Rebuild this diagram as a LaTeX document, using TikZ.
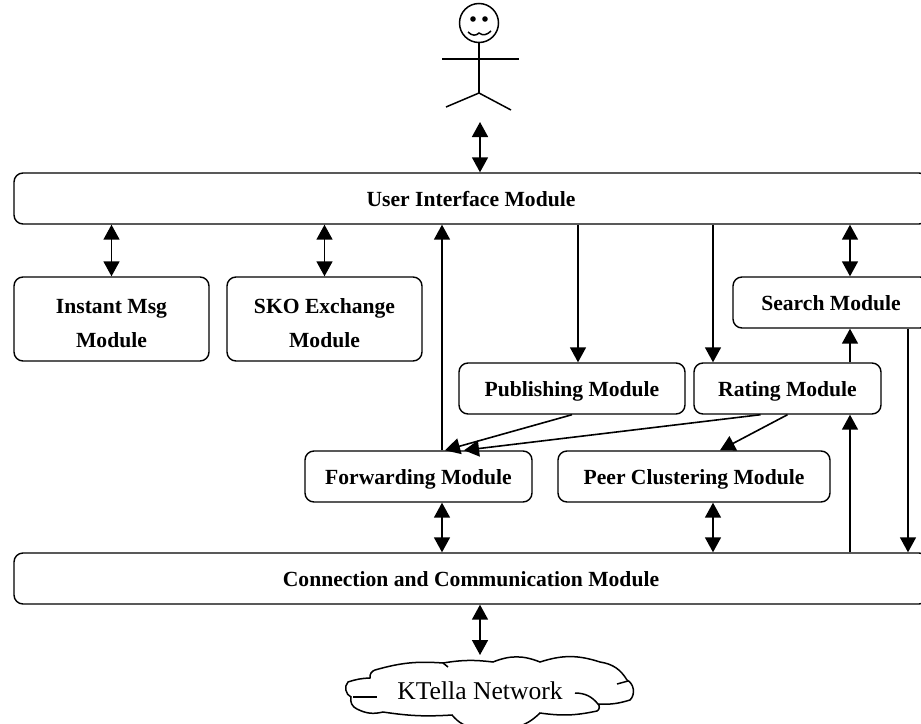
\documentclass[tikz,border=0pt]{standalone}
\usepackage{fontspec}
\setmainfont{Liberation Serif}
\usetikzlibrary{arrows.meta}
\tikzset{
	modbox/.style={draw, line width=1.4pt, rounded corners=9pt, inner sep=0pt, align=center, text height=16pt, text depth=0pt,
		font=\fontsize{21.6}{34}\selectfont\bfseries},
	onearrow/.style={line width=1.6pt, -{Triangle[length=15pt,width=16pt]}},
	bothways/.style={line width=1.6pt, {Triangle[length=15pt,width=16pt]}-{Triangle[length=15pt,width=16pt]}},
	figure/.style={line width=1.5pt},
}

\begin{document}
\begin{tikzpicture}[x=1pt,y=-1pt]
			%%%%% START %%%%%
			\useasboundingbox (0, 0) rectangle (921, 723);

			\node[modbox, minimum width=914pt, minimum height=51pt] (user) at (471, 198.5) {User Interface Module};
			\node[modbox, minimum width=914pt, minimum height=51pt] (conn) at (471, 578.5) {Connection and Communication Module};

			\node[modbox, minimum width=195pt, minimum height=84pt, text height=56pt] (instant) at (111.5, 319) {Instant Msg\\Module};
			\node[modbox, minimum width=195pt, minimum height=84pt, text height=56pt] (sko) at (324.5, 319) {SKO Exchange\\Module};
			\node[modbox, minimum width=196pt, minimum height=51pt] (search) at (831, 302.5) {Search Module};

			\node[modbox, minimum width=226pt, minimum height=51pt] (pub) at (572, 388.5) {Publishing Module};
			\node[modbox, minimum width=187pt, minimum height=51pt] (rate) at (787.5, 388.5) {Rating Module};
			\node[modbox, minimum width=227pt, minimum height=51pt] (fwd) at (418.5, 476.5) {Forwarding Module};
			\node[modbox, minimum width=272pt, minimum height=51pt] (peer) at (694, 476.5) {Peer Clustering Module};

			\coordinate (colnet) at (480, 0);
			\coordinate (colfwd) at (442, 0);
			\coordinate (colpub) at (578, 0);
			\coordinate (colrate) at (713, 0);
			\coordinate (colsearch) at (850, 0);
			\coordinate (coldown) at (908, 0);

			% person
			\coordinate (feet) at (480, 122);
			\draw[figure] (479, 23) circle (19.5);
			\fill (473, 19) circle (2.8);
			\fill (485, 19) circle (2.8);
			\draw[figure] (468, 32) .. controls (472, 36) and (476, 36) .. (479, 33) .. controls (483, 36) and (487, 35) .. (491, 31);
			\draw[figure] (479, 42) -- (479, 93);
			\draw[figure] (442, 59) -- (519, 59);
			\draw[figure] (446, 107) -- (479, 93) -- (511, 110);

			\draw[bothways] (feet) -- (user.north -| feet);
			\draw[bothways] (user.south -| instant.north) -- (instant.north);
			\draw[bothways] (user.south -| sko.north) -- (sko.north);
			\draw[onearrow] (fwd.north -| colfwd) -- (user.south -| colfwd);
			\draw[onearrow] (user.south -| colpub) -- (pub.north -| colpub);
			\draw[onearrow] (user.south -| colrate) -- (rate.north -| colrate);
			\draw[bothways] (user.south -| colsearch) -- (search.north -| colsearch);
			\draw[onearrow] (rate.north -| colsearch) -- (search.south -| colsearch);
			\draw[onearrow] (conn.north -| colsearch) -- (rate.south -| colsearch);
			\draw[onearrow] (search.south -| coldown) -- (conn.north -| coldown);

			\draw[onearrow] (pub.south) -- ([xshift=26.5pt]fwd.north);
			\draw[onearrow] ([xshift=-27pt]rate.south) -- ([xshift=45.5pt]fwd.north);
			\draw[onearrow] (rate.south) -- ([xshift=26pt]peer.north);

			\draw[bothways] (fwd.south -| colfwd) -- (conn.north -| colfwd);
			\draw[bothways] (peer.south -| colrate) -- (conn.north -| colrate);

			% cloud
			\coordinate (cloudtop) at (480, 655);
			\draw[figure] (443, 663) to[bend left=8] (493, 662) to[bend left=22] (540, 662) to[bend left=18] (600, 662)
				to[bend left=25] (627, 680) to[bend left=55] (630, 700) to[bend left=10] (598, 704)
				to[bend left=60] (597, 711) to[bend left=10] (540, 713) to[bend left=15] (513, 728)
				to (475, 728) to[bend left=20] (452, 715) to[bend left=6] (383, 712) to[bend left=20] (357, 709)
				to[bend left=40] (351, 697) to[bend left=55] (348, 682) to[bend left=8] (370, 678)
				to[bend left=40] (375, 670) to[bend left=10] (443, 663);
			\draw[figure] (353, 697) -- (377, 697);
			\draw[figure] (443, 663) -- (448, 667);
			\draw[figure] (575, 693) to[bend left=25] (598, 704);
			\draw[figure] (617, 684) -- (628, 681);
			\node[font=\fontsize{25.6}{25.6}\selectfont, inner sep=0pt] (net) at (480, 691) {KTella Network};

			\draw[bothways] (conn.south -| colnet) -- (cloudtop);
			%%%%% END %%%%%
		\end{tikzpicture}
\end{document}
